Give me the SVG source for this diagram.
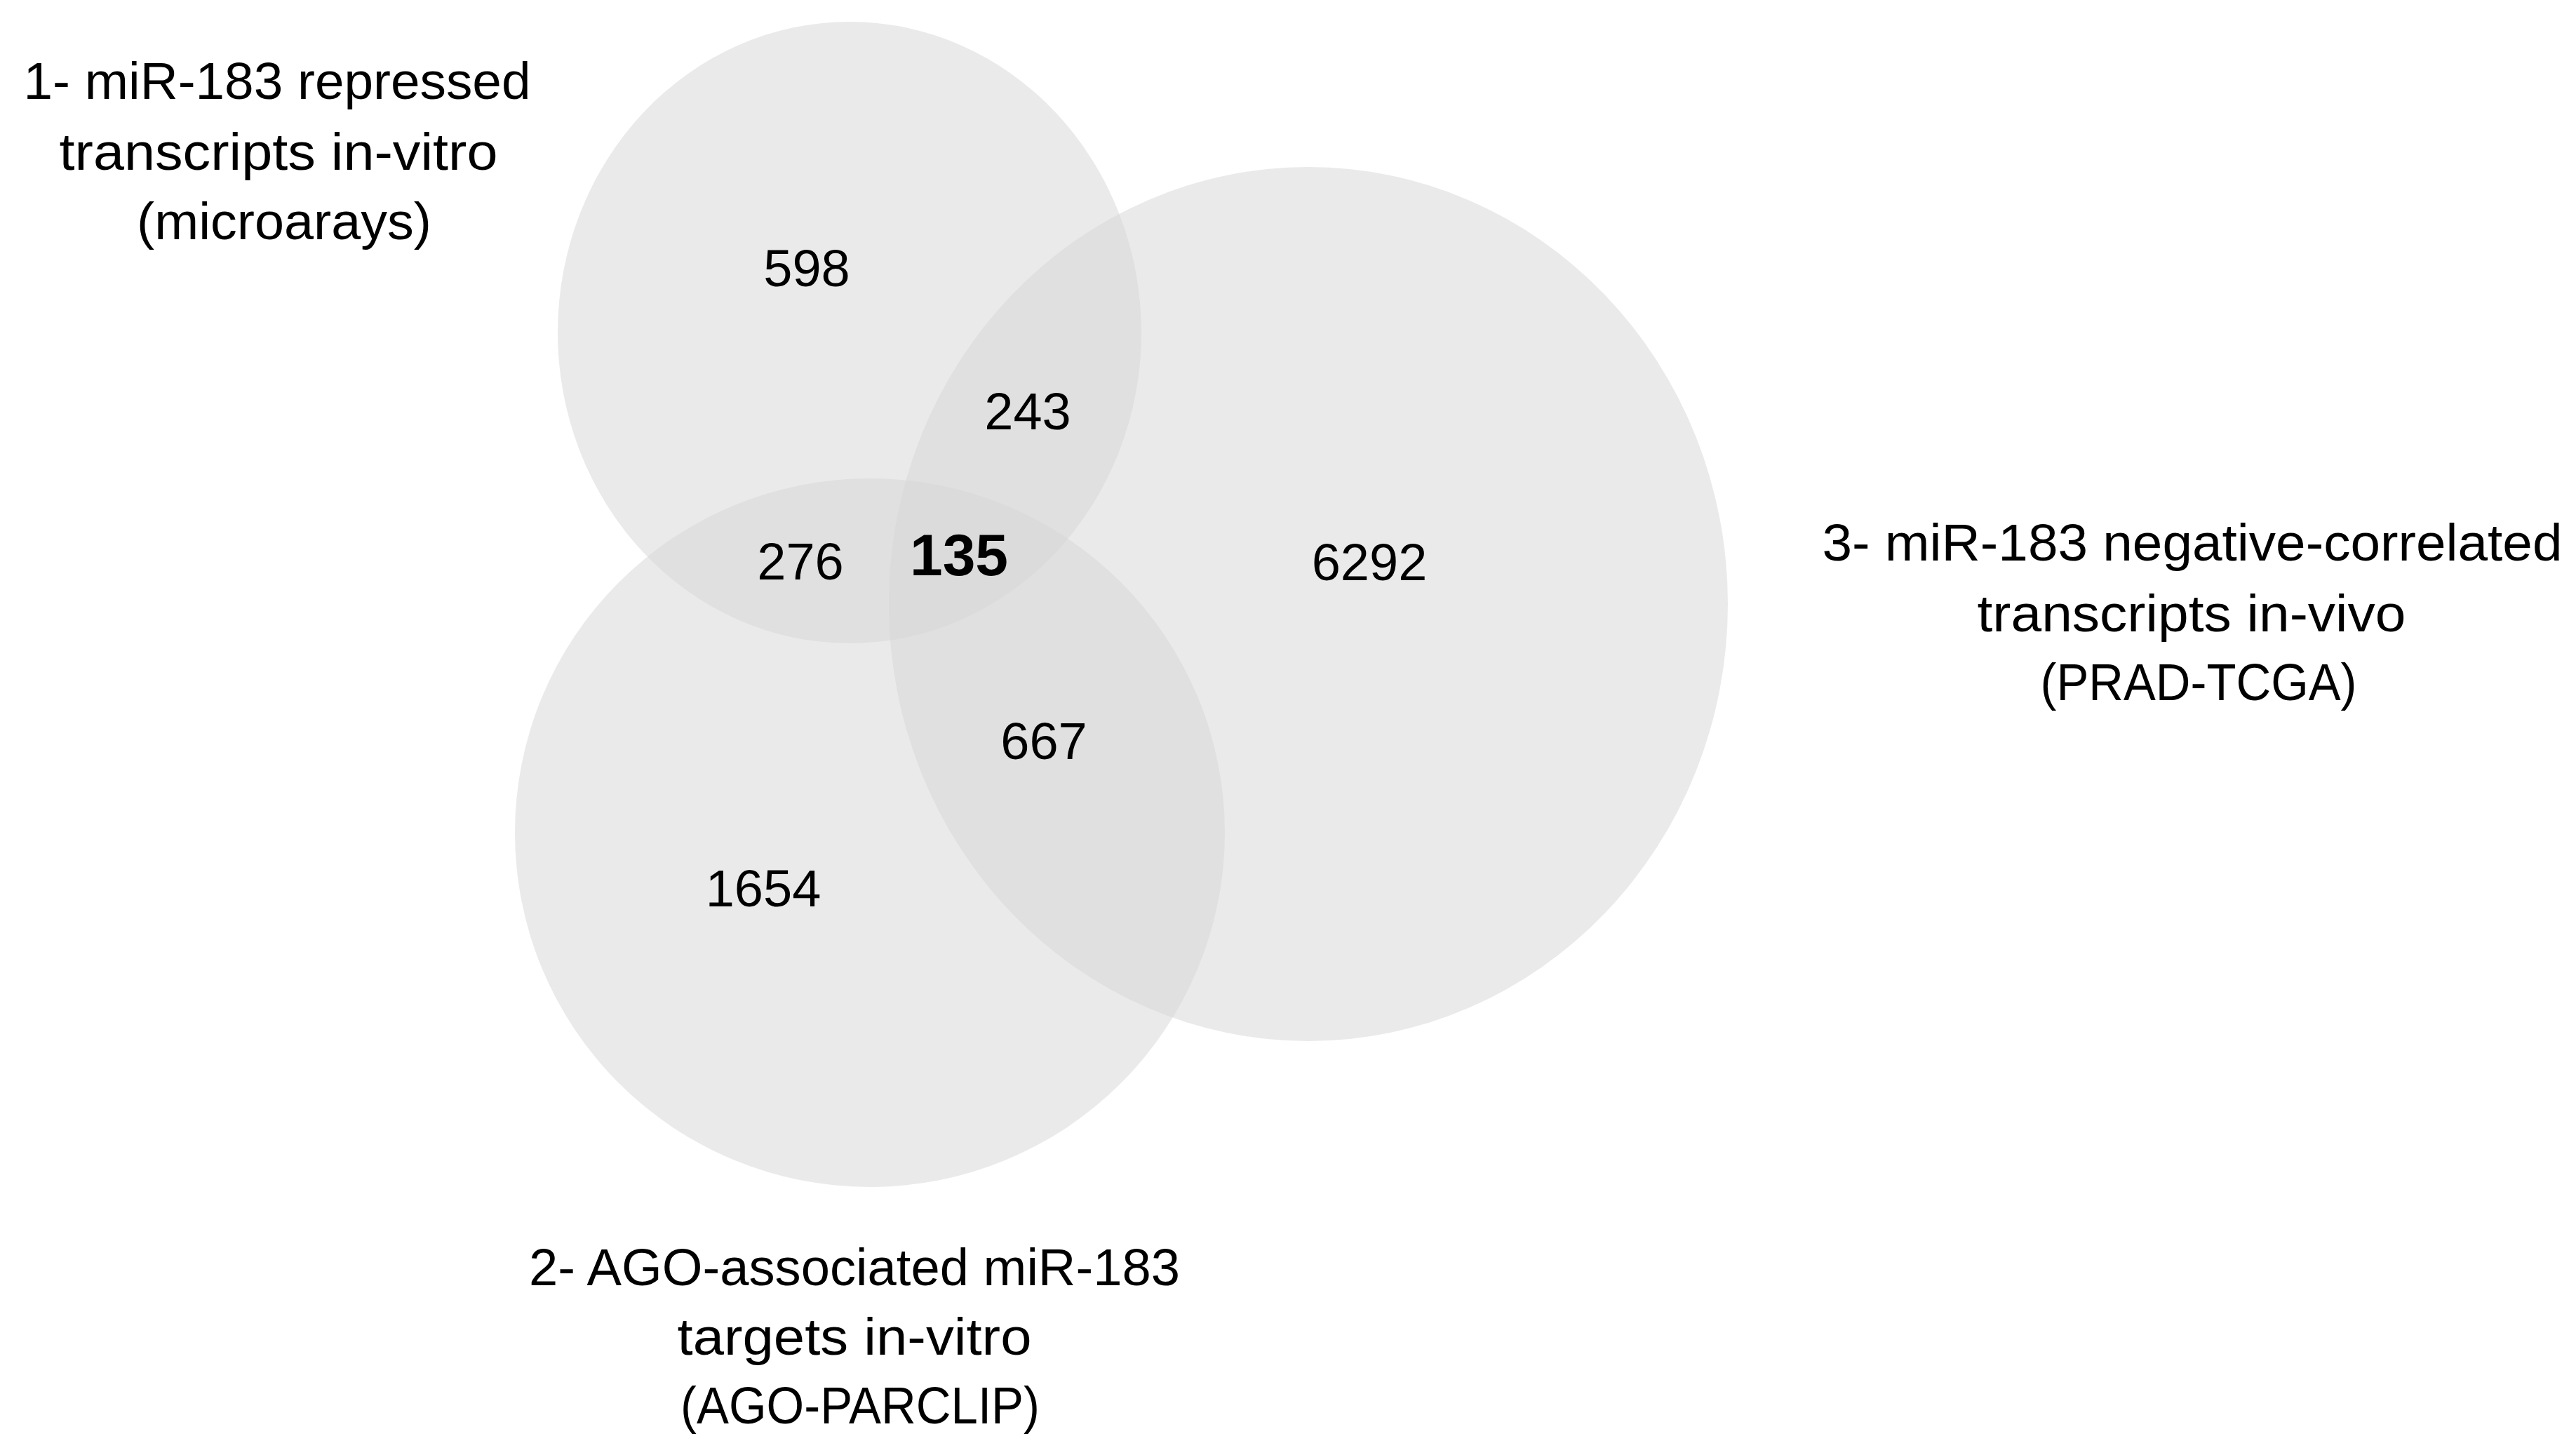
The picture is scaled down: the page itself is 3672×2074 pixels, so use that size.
<svg xmlns="http://www.w3.org/2000/svg" width="3672" height="2074" viewBox="0 0 3672 2074">
<style>
.set{fill:#d6d6d6;fill-opacity:0.5;stroke:none}
.lbl{font-family:"Liberation Sans",Arial,sans-serif;font-size:75px;fill:#000;text-anchor:middle}
.num{font-family:"Liberation Sans",Arial,sans-serif;font-size:74px;fill:#000;text-anchor:middle}
.big{font-size:84px;font-weight:bold}
</style>
<rect width="3672" height="2074" fill="#fff"/>
<g id="set1">
<ellipse class="set" cx="1211" cy="474" rx="416" ry="443"/>
<text class="lbl" x="395" y="141" textLength="723" lengthAdjust="spacingAndGlyphs">1- miR-183 repressed</text>
<text class="lbl" x="397" y="242" textLength="625" lengthAdjust="spacingAndGlyphs">transcripts in-vitro</text>
<text class="lbl" x="405" y="341" textLength="420" lengthAdjust="spacingAndGlyphs">(microarays)</text>
</g>
<g id="set2">
<ellipse class="set" cx="1240" cy="1187" rx="506" ry="505"/>
<text class="lbl" x="1218" y="1832" textLength="928" lengthAdjust="spacingAndGlyphs">2- AGO-associated miR-183</text>
<text class="lbl" x="1218" y="1931" textLength="505" lengthAdjust="spacingAndGlyphs">targets in-vitro</text>
<text class="lbl" x="1226" y="2029" textLength="512" lengthAdjust="spacingAndGlyphs">(AGO-PARCLIP)</text>
</g>
<g id="set3">
<ellipse class="set" cx="1865" cy="861" rx="598" ry="623"/>
<text class="lbl" x="3125" y="799" textLength="1055" lengthAdjust="spacingAndGlyphs">3- miR-183 negative-correlated</text>
<text class="lbl" x="3124" y="900" textLength="611" lengthAdjust="spacingAndGlyphs">transcripts in-vivo</text>
<text class="lbl" x="3134" y="998" textLength="451" lengthAdjust="spacingAndGlyphs">(PRAD-TCGA)</text>
</g>
<g id="counts">
<text class="num" x="1150" y="408">598</text>
<text class="num" x="1465" y="612">243</text>
<text class="num" x="1141" y="826">276</text>
<text class="num big" x="1367" y="820">135</text>
<text class="num" x="1952" y="827">6292</text>
<text class="num" x="1488" y="1082">667</text>
<text class="num" x="1088" y="1292">1654</text>
</g>
<g id="connectors"></g>
</svg>
